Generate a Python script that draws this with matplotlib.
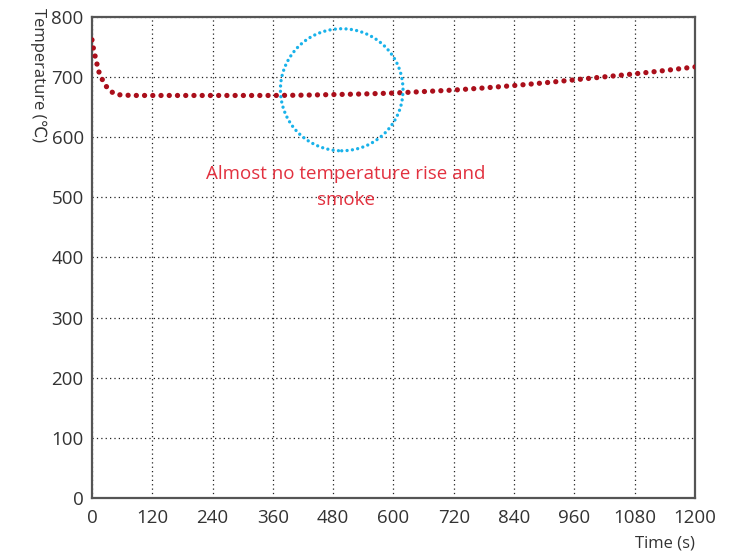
import matplotlib
matplotlib.use("Agg")
import matplotlib.pyplot as plt
from matplotlib.patches import Ellipse

plt.rcParams['font.family'] = ['Open Sans', 'DejaVu Sans']

time_s = [0, 3, 7, 11, 15, 23, 32, 45, 60, 90, 120, 180, 240, 300, 360, 420,
          480, 540, 600, 660, 720, 780, 840, 900, 960, 1020, 1080, 1140, 1200]
temp_c = [762, 747, 732, 718, 705, 692, 680, 672, 670, 669.5, 669.5, 669.5, 669.5,
          669.5, 669.5, 670, 671, 672, 673.5, 676, 678.5, 682, 686, 690.5, 695.5,
          700.5, 705.5, 711, 717]
x_ticks = [0, 120, 240, 360, 480, 600, 720, 840, 960, 1080, 1200]
y_ticks = [0, 100, 200, 300, 400, 500, 600, 700, 800]
annotation = "Almost no temperature rise and\nsmoke"
x_label = "Time (s)"
y_label = "Temperature (\u2103)"

fig = plt.figure(figsize=(7.46, 5.54), dpi=100)
ax = fig.add_axes([0.1233, 0.1011, 0.8083, 0.8682])

line, = ax.plot(time_s, temp_c, color='#aa0f1b', lw=3.8, solid_capstyle='round',
                dash_capstyle='round', zorder=3)
line.set_dashes((0.01, 1.55))

ell = Ellipse((497, 679), width=244, height=203, fill=False, edgecolor='#19b2ea',
              lw=2.4, zorder=4)
ell.set_linestyle((0, (0.01, 1.6)))
ell.set_capstyle('round')
ax.add_patch(ell)

ax.text(505, 517, annotation, color='#e2313f', fontsize=13.5, ha='center',
        va='center', linespacing=1.6)

ax.set_xlim(0, 1200)
ax.set_ylim(0, 800)
ax.set_xticks(x_ticks)
ax.set_yticks(y_ticks)
ax.tick_params(length=0, labelsize=13.5, colors='#333333')
ax.tick_params(axis='x', pad=8)
ax.tick_params(axis='y', pad=6)
ax.grid(True, color='#222222', linestyle=(0, (1, 2.5)), lw=0.9)
for s in ax.spines.values():
    s.set_color('#555555')
    s.set_linewidth(1.6)

fig.text(0.9316, 0.019, x_label, ha='right', va='center', fontsize=12, color='#333333')
fig.text(0.051, 0.985, y_label, ha='center', va='top', rotation=-90, fontsize=12,
         color='#333333')

fig.savefig("out.png", dpi=100)
